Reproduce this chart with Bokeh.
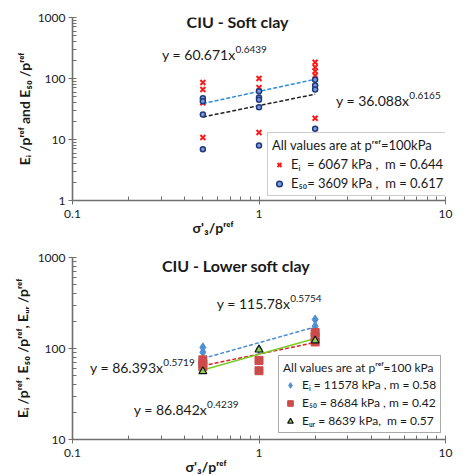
from bokeh.plotting import figure
from bokeh.layouts import column
from bokeh.models import Label, Legend, LegendItem, Range1d, FixedTicker, Title
from bokeh.embed import file_html
from bokeh.resources import INLINE

FONT = "Lato"

# ---------------- Axis ticks ----------------
x_major = [0.1, 1, 10]
x_minor = [0.2, 0.3, 0.4, 0.5, 0.6, 0.7, 0.8, 0.9, 2, 3, 4, 5, 6, 7, 8, 9]
x_labels = ["0.1", "1", "10"]
y_major_top = [1, 10, 100, 1000]
y_labels_top = ["1", "10", "100", "1000"]
y_major_bot = [10, 100, 1000]
y_labels_bot = ["10", "100", "1000"]
y_minor = [2, 3, 4, 5, 6, 7, 8, 9, 20, 30, 40, 50, 60, 70, 80, 90,
           200, 300, 400, 500, 600, 700, 800, 900]

# ---------------- Top chart data (CIU - Soft clay) ----------------
top_ei_x = [0.5, 0.5, 0.5, 0.5, 1, 1, 1, 2, 2, 2, 2, 2]
top_ei_y = [86, 66, 40, 10.8, 100, 71, 13, 185, 153, 132, 112, 22.3]
top_e50_x = [0.5, 0.5, 0.5, 0.5, 1, 1, 1, 1, 1, 2, 2, 2, 2]
top_e50_y = [47.5, 42.5, 25.7, 6.9, 62, 49, 44.8, 33.8, 8, 95, 77, 66, 15]
top_trend_x = [0.5, 2]
top_trend_ei = [38.8, 97.2]
top_trend_e50 = [23.4, 55.3]

# ---------------- Bottom chart data (CIU - Lower soft clay) ----------------
bot_ei_x = [0.5, 0.5, 1, 2, 2]
bot_ei_y = [103, 91, 98, 208, 176]
bot_e50_x = [0.5, 0.5, 0.5, 1, 1, 2, 2, 2]
bot_e50_y = [75, 68, 63, 74, 57, 150, 135, 118]
bot_eur_x = [0.5, 1, 2]
bot_eur_y = [56, 97, 122]
bot_trend_x = [0.5, 2]
bot_trend_ei = [77.6, 172.7]
bot_trend_e50 = [64.7, 116.5]
bot_trend_eur = [58.0, 128.6]

AXIS_COLOR = "#6f6f6f"
TEXT_COLOR = "#1a1a1a"


def style(p, y_major, y_labels):
    p.xgrid.visible = False
    p.ygrid.visible = False
    p.outline_line_color = None
    p.background_fill_color = "white"
    p.border_fill_color = "white"
    p.xaxis[0].ticker = FixedTicker(ticks=x_major, minor_ticks=x_minor)
    p.yaxis[0].ticker = FixedTicker(ticks=y_major, minor_ticks=y_minor)
    p.xaxis[0].major_label_overrides = dict(zip(x_major, x_labels))
    p.yaxis[0].major_label_overrides = dict(zip(y_major, y_labels))
    for ax in (p.xaxis[0], p.yaxis[0]):
        ax.axis_line_color = AXIS_COLOR
        ax.axis_line_width = 1.6
        ax.major_tick_line_color = AXIS_COLOR
        ax.minor_tick_line_color = AXIS_COLOR
        ax.major_tick_in = 4
        ax.major_tick_out = 4
        ax.minor_tick_in = 4
        ax.minor_tick_out = 0
        ax.major_label_text_font = FONT
        ax.major_label_text_font_size = "12px"
        ax.major_label_text_color = TEXT_COLOR
        ax.major_label_standoff = 3
        ax.axis_label_text_font = FONT
        ax.axis_label_text_font_style = "bold"
        ax.axis_label_text_font_size = "14px"
        ax.axis_label_text_color = TEXT_COLOR
    p.xaxis[0].major_label_standoff = 5


def add_eq(p, x, y, main, sup):
    p.add_layout(Label(x=x, y=y, text=main, text_align="right", text_baseline="middle",
                       text_font=FONT, text_font_size="14px", text_color=TEXT_COLOR))
    p.add_layout(Label(x=x, y=y, y_offset=5, text=sup, text_align="left", text_baseline="middle",
                       text_font=FONT, text_font_size="10px", text_color=TEXT_COLOR))


def add_text(p, x, y, txt, size, bold=False):
    p.add_layout(Label(x=x, y=y, text=txt, text_align="center", text_baseline="middle",
                       text_font=FONT, text_font_size=size,
                       text_font_style="bold" if bold else "normal", text_color=TEXT_COLOR))


def add_xtitle(p, offset):
    t = Title(text="σ'₃/pʳᵉᶠ", align="left", offset=offset, standoff=-8,
              text_font=FONT, text_font_size="14px", text_font_style="bold",
              text_color=TEXT_COLOR)
    p.add_layout(t, "below")


# ---------------- Top figure ----------------
p1 = figure(width=463, height=235, x_axis_type="log", y_axis_type="log",
            x_range=Range1d(0.1, 10), y_range=Range1d(1, 1000),
            output_backend="svg", toolbar_location=None,
            min_border_left=63, min_border_right=18, min_border_top=17, min_border_bottom=35)
style(p1, y_major_top, y_labels_top)
p1.yaxis[0].axis_label = "Eᵢ /pʳᵉᶠ and E₅₀ /pʳᵉᶠ"
p1.yaxis[0].axis_label_standoff = 2
add_xtitle(p1, 120)

l1 = p1.line(top_trend_x, top_trend_ei, line_color="#2f8ad8", line_width=1.5, line_dash="4 2")
l2 = p1.line(top_trend_x, top_trend_e50, line_color="#222222", line_width=1.5, line_dash="4 2")
r1 = p1.scatter(top_ei_x, top_ei_y, marker="x", size=7, line_color="#ff1a1a", line_width=2)
r2 = p1.scatter(top_e50_x, top_e50_y, marker="circle", size=5, fill_color="#7f9cd6",
                line_color="#1f3a80", line_width=1.5)

add_text(p1, 0.767, 862, "CIU - Soft clay", "16px", bold=True)
add_eq(p1, 0.748, 247, "y = 60.671x", "0.6439")
add_eq(p1, 6.4, 43.6, "y = 36.088x", "0.6165")

leg1 = Legend(items=[LegendItem(label="Eᵢ  = 6067 kPa ,  m = 0.644", renderers=[r1]),
                     LegendItem(label="E₅₀= 3609 kPa ,  m = 0.617", renderers=[r2])],
              location=(195, 4), title="All values are at pʳᵉᶠ=100kPa")
leg1.title_text_font = FONT
leg1.title_text_font_size = "13px"
leg1.title_text_font_style = "normal"
leg1.title_text_color = TEXT_COLOR
leg1.title_standoff = 3
leg1.label_text_font = FONT
leg1.label_text_font_size = "13px"
leg1.label_text_color = TEXT_COLOR
leg1.label_height = 15
leg1.glyph_height = 15
leg1.glyph_width = 14
leg1.spacing = 3
leg1.padding = 4
leg1.margin = 0
leg1.border_line_color = "#9a9a9a"
leg1.border_line_width = 1.2
leg1.background_fill_alpha = 0.0
p1.add_layout(leg1)

# ---------------- Bottom figure ----------------
p2 = figure(width=463, height=240, x_axis_type="log", y_axis_type="log",
            x_range=Range1d(0.1, 10), y_range=Range1d(10, 1000),
            output_backend="svg", toolbar_location=None,
            min_border_left=72, min_border_right=17, min_border_top=22, min_border_bottom=36)
style(p2, y_major_bot, y_labels_bot)
p2.yaxis[0].axis_label = "Eᵢ /pʳᵉᶠ, E₅₀ /pʳᵉᶠ, Eᵤᵣ /pʳᵉᶠ"
p2.yaxis[0].axis_label_standoff = 4
add_xtitle(p2, 113)

p2.line(bot_trend_x, bot_trend_ei, line_color="#4a8ad4", line_width=1.5, line_dash="4 2")
p2.line(bot_trend_x, bot_trend_e50, line_color="#e02020", line_width=1.5, line_dash="4 2")
p2.line(bot_trend_x, bot_trend_eur, line_color="#7acb2a", line_width=1.5)
s1 = p2.scatter(bot_ei_x, bot_ei_y, marker="diamond", size=9, fill_color="#4f8fd6",
                line_color="#4f8fd6")
s2 = p2.scatter(bot_e50_x, bot_e50_y, marker="square", size=8, fill_color="#cc4b4b",
                line_color="#cc4b4b")
s3 = p2.scatter(bot_eur_x, bot_eur_y, marker="triangle", size=8, fill_color="#8fd14f",
                line_color="#111111", line_width=1.2)

add_text(p2, 0.753, 816, "CIU - Lower soft clay", "16px", bold=True)
add_eq(p2, 1.47, 312, "y = 115.78x", "0.5754")
add_eq(p2, 0.307, 62, "y = 86.393x", "0.5719")
add_eq(p2, 0.527, 21.4, "y = 86.842x", "0.4239")

leg2 = Legend(items=[LegendItem(label="Eᵢ = 11578 kPa , m = 0.58", renderers=[s1]),
                     LegendItem(label="E₅₀ = 8684 kPa , m = 0.42", renderers=[s2]),
                     LegendItem(label="Eᵤᵣ = 8639 kPa,  m = 0.57", renderers=[s3])],
              location=(206, 6), title="All values are at pʳᵉᶠ=100 kPa")
leg2.title_text_font = FONT
leg2.title_text_font_size = "12px"
leg2.title_text_font_style = "normal"
leg2.title_text_color = TEXT_COLOR
leg2.title_standoff = 2
leg2.label_text_font = FONT
leg2.label_text_font_size = "12px"
leg2.label_text_color = TEXT_COLOR
leg2.label_height = 14
leg2.glyph_height = 14
leg2.glyph_width = 14
leg2.spacing = 3
leg2.padding = 4
leg2.margin = 0
leg2.border_line_color = "#555555"
leg2.border_line_width = 1.5
leg2.background_fill_color = "white"
p2.add_layout(leg2)

layout = column(p1, p2, spacing=0)
open("out.html", "w").write(file_html(layout, INLINE))
